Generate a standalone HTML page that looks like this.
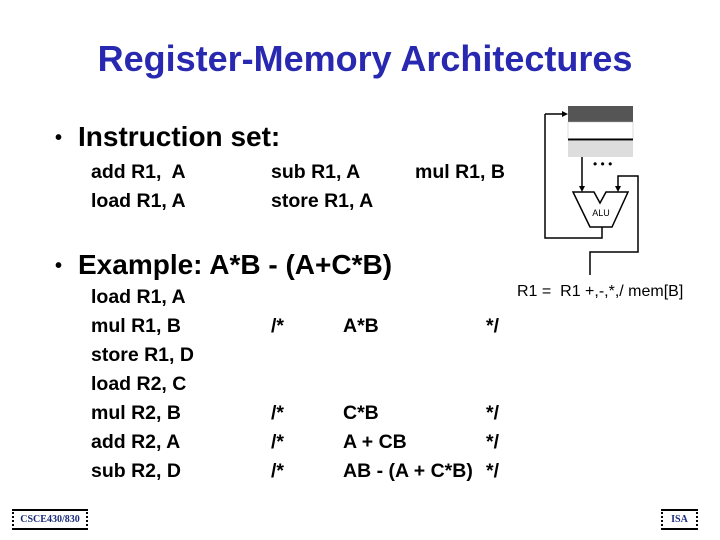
<!DOCTYPE html>
<html><head><meta charset="utf-8"><style>
body{margin:0;width:720px;height:540px;background:#fff;position:relative;overflow:hidden;font-family:"Liberation Sans",sans-serif;}
.t{position:absolute;white-space:nowrap;color:#000;font-weight:bold;}
.c{font-size:19.5px;line-height:29px;}
.h{font-size:28px;}
.box{position:absolute;border:2px dotted #000;border-top:2px solid #000;border-bottom:2px solid #000;font-family:"Liberation Serif",serif;font-weight:bold;font-size:10px;color:#1a2a7a;text-align:center;line-height:17px;}
</style></head><body>
<div class="t" style="left:0;width:730px;text-align:center;top:38px;font-size:36px;color:#2828b0;">Register-Memory Architectures</div>
<div class="t" style="left:55px;top:123px;font-size:20px;line-height:30px;">•</div>
<div class="t h" style="left:78px;top:121px;">Instruction set:</div>
<div class="t c" style="left:91px;top:158px;">add R1,&nbsp; A<br>load R1, A</div>
<div class="t c" style="left:271px;top:158px;">sub R1, A<br>store R1, A</div>
<div class="t c" style="left:415px;top:158px;">mul R1, B</div>
<div class="t" style="left:55px;top:251px;font-size:20px;line-height:30px;">•</div>
<div class="t h" style="left:78px;top:249px;">Example: A*B - (A+C*B)</div>
<div class="t" style="left:517px;top:283px;font-size:16px;font-weight:normal;">R1 =&nbsp; R1 +,-,*,/ mem[B]</div>
<div class="t c" style="left:91px;top:283px;">load R1, A<br>mul R1, B<br>store R1, D<br>load R2, C<br>mul R2, B<br>add R2, A<br>sub R2, D</div>
<div class="t c" style="left:271px;top:312px;">/*<br><br><br>/*<br>/*<br>/*</div>
<div class="t c" style="left:343px;top:312px;">A*B<br><br><br>C*B<br>A + CB<br>AB - (A + C*B)</div>
<div class="t c" style="left:486px;top:312px;">*/<br><br><br>*/<br>*/<br>*/</div>
<svg style="position:absolute;left:0;top:0" width="720" height="540">
<rect x="568" y="106" width="65" height="16" fill="#555"/>
<rect x="568" y="122" width="65" height="17" fill="#fff" stroke="#bbb" stroke-width="0.5"/>
<line x1="568" y1="139.5" x2="633" y2="139.5" stroke="#000" stroke-width="2"/>
<rect x="568" y="141" width="65" height="16" fill="#ddd"/>
<text x="593" y="168" font-size="12" font-family="Liberation Sans">• • •</text>
<polyline points="545,114 545,238 602,238 602,227" fill="none" stroke="#000" stroke-width="1.5"/>
<line x1="545" y1="114" x2="564" y2="114" stroke="#000" stroke-width="1.5"/>
<polygon points="568,114 562,111 562,117" fill="#000"/>
<line x1="582" y1="157" x2="582" y2="188" stroke="#000" stroke-width="1.5"/>
<polygon points="582,192 579,186 585,186" fill="#000"/>
<polyline points="590,275 590,252 638,252 638,176 618,176 618,188" fill="none" stroke="#000" stroke-width="1.5"/>
<polygon points="618,192 615,186 621,186" fill="#000"/>
<polygon points="573,192 594,192 600,203 606,192 628,192 612,227 590,227" fill="#fff" stroke="#000" stroke-width="1.5"/>
<text x="601" y="216" font-size="9" text-anchor="middle" font-family="Liberation Sans">ALU</text>
</svg>
<div class="box" style="left:12px;top:509px;width:72px;height:17px;">CSCE430/830</div>
<div class="box" style="left:661px;top:509px;width:33px;height:17px;">ISA</div>
</body></html>
